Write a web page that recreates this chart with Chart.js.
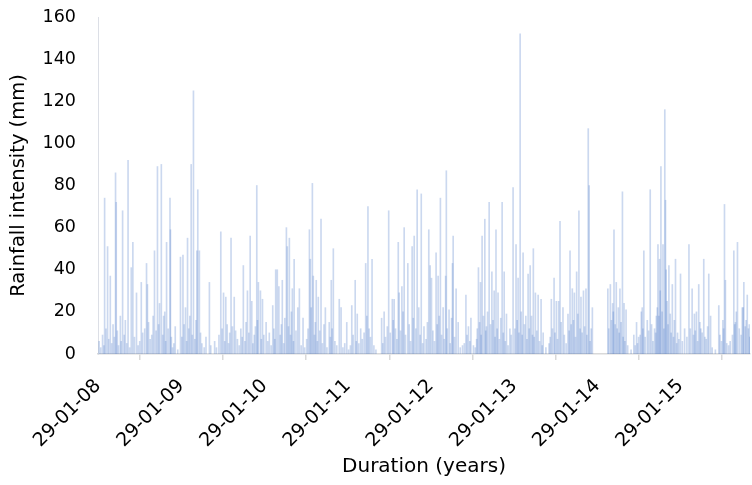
<!DOCTYPE html>
<html lang="en">
<head>
<meta charset="UTF-8">
<title>Rainfall intensity</title>
<script src="https://cdn.jsdelivr.net/npm/chart.js"></script>
<style>
  html, body { margin: 0; padding: 0; background: #fff; }
</style>
</head>
<body>
<canvas id="rainChart" width="752" height="485"></canvas>
<script>
  // Days are counted from 29 Jan 2008
  const yearTickDays = [0, 366, 731, 1096, 1461, 1827, 2192, 2557];
  const yearTickLabels = ['29-01-08', '29-01-09', '29-01-10', '29-01-11', '29-01-12', '29-01-13', '29-01-14', '29-01-15'];
  const lastDay = 2862;

  // Heavy rain days (mm)
  const stormDays = [
    29, 42, 54, 77, 80, 98, 108, 132, 146, 153, 169, 190, 213, 217, 248, 261, 278, 288, 301, 316, 318, 339,
    362, 373, 393, 409, 419, 434, 438, 445, 489, 539, 551, 561, 584, 598, 638, 656, 668, 675, 697, 704, 713, 722,
    738, 767, 780, 787, 794, 809, 827, 831, 840, 853, 861, 877, 884, 900, 928, 932, 941, 945, 958, 967, 979, 998,
    1015, 1024, 1033, 1059, 1067, 1092, 1114, 1129, 1138, 1153, 1175, 1185, 1203, 1211, 1245, 1256, 1276, 1292,
    1300, 1318, 1322, 1334, 1344, 1360, 1379, 1388, 1401, 1419, 1431, 1452, 1458, 1464, 1484, 1493, 1503, 1515,
    1526, 1529, 1541, 1552, 1556, 1559, 1572, 1581, 1600, 1615, 1626, 1637, 1662, 1670, 1679, 1686, 1698, 1705,
    1717, 1729, 1739, 1747, 1756, 1774, 1783, 1793, 1808, 1822, 1835, 1844, 1853, 1866, 1878, 1888, 1897, 1911,
    1920, 1932, 1945, 1954, 1980, 1990, 2002, 2012, 2022, 2028, 2041, 2063, 2072, 2082, 2091, 2101, 2111, 2120,
    2131, 2142, 2152, 2156, 2170, 2238, 2249, 2259, 2265, 2275, 2284, 2291, 2302, 2309, 2318, 2352, 2364, 2373,
    2385, 2389, 2396, 2411, 2424, 2436, 2443, 2451, 2458, 2465, 2471, 2480, 2488, 2491, 2494, 2506, 2512, 2521,
    2535, 2544, 2557, 2575, 2594, 2608, 2618, 2627, 2637, 2646, 2659, 2670, 2681, 2689, 2725, 2743, 2750, 2754,
    2775, 2791, 2798, 2807, 2828, 2835, 2841, 2850, 2859
  ];
  const stormMm = [
    74, 51, 37, 86, 72, 18, 68, 92, 41, 53, 29, 34, 43, 33, 49, 89, 90, 18, 53, 74, 59, 13,
    46, 47, 55, 90, 125, 49, 78, 49, 34, 58, 29, 27, 55, 27, 42, 30, 56, 25, 80, 34, 30, 26,
    15, 23, 40, 40, 32, 35, 60, 51, 55, 31, 45, 22, 31, 17, 59, 45, 81, 37, 35, 27, 64, 22,
    15, 35, 50, 26, 22, 15, 23, 35, 19, 12, 43, 70, 45, 4, 17, 20, 68, 26,
    26, 53, 29, 32, 60, 43, 51, 56, 78, 76, 13, 59, 42, 36, 48, 37, 74, 22,
    37, 87, 21, 17, 43, 56, 31, 15, 4, 28, 13, 17, 7, 41, 34, 56, 64, 13,
    72, 39, 30, 59, 29, 72, 39, 19, 12, 79, 52, 36, 152, 48, 18, 38, 42, 50,
    29, 28, 26, 10, 5, 26, 36, 25, 25, 63, 22, 19, 49, 31, 29, 39, 68, 27,
    30, 31, 107, 80, 22, 31, 33, 24, 59, 34, 22, 31, 77, 24, 21, 9, 15, 8,
    20, 22, 49, 16, 78, 6, 12, 18, 52, 45, 89, 52, 116, 73, 40, 42, 19, 33,
    45, 10, 38, 12, 52, 31, 19, 20, 33, 12, 45, 7, 38, 18, 23, 16, 71, 35,
    6, 49, 15, 53, 22, 34, 13, 28, 14
  ];

  // Lighter showers (mm)
  const showerDays = [
    5, 12, 20, 26, 35, 47, 60, 66, 72, 85, 90, 102, 115, 120, 126, 139, 160, 176, 183, 196, 205, 222, 229, 236,
    242, 255, 266, 270, 284, 293, 297, 308, 322, 327, 333, 350,
    368, 378, 384, 389, 398, 403, 414, 425, 430, 450, 456, 466, 474, 495, 512, 520, 531, 545, 556, 567, 573, 578,
    590, 604, 612, 620, 627, 633, 645, 650, 662, 680, 686, 691, 700, 717, 728,
    745, 752, 760, 772, 776, 800, 805, 815, 820, 836, 845, 849, 858, 869, 892, 907, 916, 922, 936, 950, 954, 963,
    973, 985, 992, 1005, 1020, 1028, 1040, 1048, 1075, 1083, 1100,
    1108, 1120, 1134, 1145, 1160, 1168, 1180, 1190, 1196, 1220, 1250, 1262, 1270, 1283, 1296, 1306, 1312, 1328,
    1339, 1350, 1366, 1372, 1384, 1395, 1408, 1414, 1425, 1440, 1446,
    1470, 1477, 1489, 1498, 1508, 1520, 1533, 1546, 1565, 1590, 1608, 1620, 1632, 1648, 1656, 1665, 1675, 1682,
    1692, 1702, 1710, 1723, 1734, 1743, 1752, 1762, 1768, 1779, 1788, 1800, 1814,
    1830, 1840, 1848, 1858, 1862, 1872, 1883, 1893, 1903, 1907, 1915, 1926, 1938, 1950, 1966, 1985, 1995, 2006,
    2017, 2033, 2047, 2055, 2068, 2077, 2087, 2096, 2106, 2116, 2125, 2136, 2146, 2160, 2165,
    2242, 2254, 2262, 2270, 2279, 2288, 2296, 2305, 2313, 2325, 2340, 2358, 2368, 2380, 2392, 2402, 2417, 2430,
    2448, 2455, 2462, 2468, 2476, 2484, 2498, 2502, 2516, 2526, 2530, 2540, 2550,
    2565, 2585, 2600, 2614, 2622, 2632, 2642, 2652, 2664, 2676, 2696, 2710, 2730, 2737, 2746, 2760, 2768, 2785,
    2795, 2802, 2815, 2823, 2832, 2845, 2855, 2861
  ];
  const showerMm = [
    6, 3, 9, 4, 12, 7, 5, 14, 8, 11, 4, 6, 9, 16, 5, 3, 8, 4, 6, 10, 12, 15, 7, 9,
    18, 11, 14, 24, 9, 20, 6, 12, 8, 3, 5, 2,
    8, 14, 22, 6, 12, 18, 9, 7, 16, 10, 5, 3, 8, 4, 6, 3, 9, 12, 6, 14, 5, 10,
    13, 11, 7, 4, 12, 8, 6, 15, 10, 5, 9, 13, 16, 7, 9,
    6, 10, 4, 12, 7, 9, 14, 5, 17, 13, 9, 20, 6, 11, 4, 3, 7, 12, 22, 9, 15, 6,
    11, 5, 14, 3, 8, 12, 6, 4, 3, 5, 2,
    4, 9, 6, 5, 7, 10, 18, 12, 8, 2, 5, 8, 13, 10, 16, 12, 7, 11,
    20, 9, 14, 6, 17, 12, 22, 9, 5, 7, 15,
    11, 6, 14, 18, 9, 7, 12, 5, 8, 3, 5, 9, 6, 4, 3, 12, 15, 9,
    18, 11, 20, 14, 16, 8, 12, 7, 17, 10, 6, 4, 9,
    12, 16, 10, 20, 9, 14, 7, 12, 18, 9, 8, 11, 6, 4, 3, 8, 12, 10,
    7, 15, 9, 5, 11, 14, 16, 8, 19, 12, 10, 13, 9, 6, 12,
    12, 16, 20, 14, 12, 10, 15, 8, 6, 4, 2, 4, 5, 9, 12, 8, 11, 14,
    10, 22, 18, 30, 20, 12, 25, 14, 10, 8, 16, 5, 7,
    6, 8, 12, 9, 11, 6, 15, 10, 8, 13, 3, 2, 9, 6, 12, 5, 4, 9,
    14, 20, 12, 9, 22, 16, 12, 8
  ];

  const points = stormDays.map((d, i) => ({ x: d, y: stormMm[i] }))
    .concat(showerDays.map((d, i) => ({ x: d, y: showerMm[i] })))
    .sort((a, b) => a.x - b.x);

  const family = '"DejaVu Sans", sans-serif';

  new Chart(document.getElementById('rainChart'), {
    type: 'bar',
    data: {
      datasets: [{
        label: 'Rainfall',
        data: points,
        backgroundColor: 'rgba(68, 114, 196, 0.28)',
        borderWidth: 0,
        barThickness: 1
      }]
    },
    options: {
      responsive: false,
      animation: false,
      layout: { padding: { left: 3, right: 2, top: 17, bottom: 2 } },
      plugins: {
        legend: { display: false },
        tooltip: { enabled: false }
      },
      scales: {
        x: {
          type: 'linear',
          min: 0,
          max: lastDay,
          offset: false,
          afterBuildTicks: (scale) => {
            scale.ticks = yearTickDays.map(v => ({ value: v }));
          },
          afterFit: (scale) => { scale.height = 129; },
          grid: { drawOnChartArea: false, drawTicks: true, tickLength: 6, color: '#d9d9d9', lineWidth: 1.5 },
          border: { display: true, color: '#d9d9d9', width: 1.5 },
          ticks: {
            autoSkip: false,
            minRotation: 45,
            maxRotation: 45,
            padding: 15,
            color: '#000',
            font: { family, size: 19 },
            callback: (value) => {
              const i = yearTickDays.indexOf(value);
              return i >= 0 ? yearTickLabels[i] : '';
            }
          },
          title: { display: true, text: 'Duration (years)', color: '#000', font: { family, size: 20 }, padding: { top: 4, bottom: 4 } }
        },
        y: {
          min: 0,
          max: 160,
          afterFit: (scale) => { scale.width = 95; },
          // no tick marks drawn; the tick length only spaces the labels off the axis
          grid: { display: false, drawTicks: true, tickLength: 22 },
          border: { display: true, color: '#dcdfe6', width: 1 },
          ticks: { stepSize: 20, padding: 0, color: '#000', font: { family, size: 17.5 } },
          title: { display: true, text: 'Rainfall intensity (mm)', color: '#000', font: { family, size: 19.5 }, padding: { top: 4, bottom: 4 } }
        }
      }
    }
  });
</script>
</body>
</html>
